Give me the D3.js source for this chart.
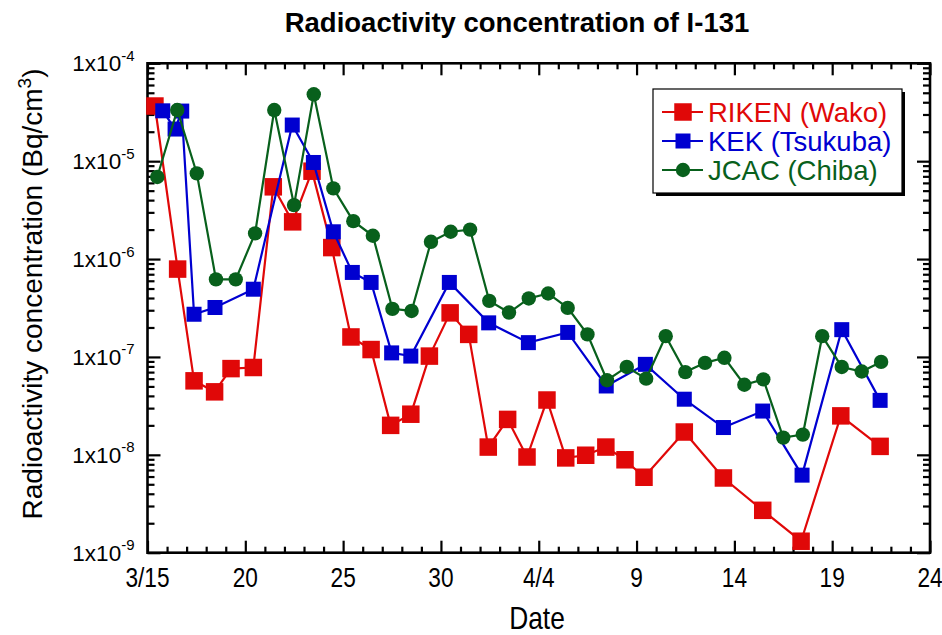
<!DOCTYPE html>
<html>
<head>
<meta charset="utf-8">
<script src="https://cdn.jsdelivr.net/npm/d3@7"></script>
<style>
  body { margin: 0; background: #fff; }
  svg { display: block; font-family: "Liberation Sans", Arial, sans-serif; }
</style>
</head>
<body>
<svg id="chart" width="942" height="635"></svg>
<script>
// Days counted from 3/15, major tick labels along the date axis
const xTickDays = [0, 5, 10, 15, 20, 25, 30, 35, 40];
const xTickLabels = ["3/15", "20", "25", "30", "4/4", "9", "14", "19", "24"];
// Decade exponents on the concentration axis
const yTickExps = [-4, -5, -6, -7, -8, -9];

// RIKEN (Wako)
const rikenDays = [0.38, 1.54, 2.38, 3.43, 4.27, 5.41, 6.43, 7.42, 8.41, 9.42, 10.40, 11.43,
  12.43, 13.46, 14.41, 15.47, 16.42, 17.42, 18.41, 19.40, 20.42, 21.38, 22.40, 23.43,
  24.41, 25.38, 27.44, 29.44, 31.45, 33.41, 35.44, 37.45];
const rikenValues = [3.66e-5, 7.9e-7, 5.7e-8, 4.4e-8, 7.6e-8, 7.8e-8, 5.47e-6, 2.4e-6, 7.9e-6,
  1.31e-6, 1.6e-7, 1.19e-7, 2.0e-8, 2.6e-8, 1.02e-7, 2.82e-7, 1.7e-7, 1.2e-8, 2.3e-8,
  9.5e-9, 3.63e-8, 9.3e-9, 9.9e-9, 1.2e-8, 8.9e-9, 5.9e-9, 1.71e-8, 5.8e-9, 2.71e-9,
  1.31e-9, 2.5e-8, 1.22e-8];

// KEK (Tsukuba)
const kekDays = [0.78, 1.41, 1.75, 2.38, 3.45, 5.41, 7.40, 8.48, 9.50, 10.47, 11.43, 12.48,
  13.46, 15.43, 17.44, 19.47, 21.48, 23.45, 25.45, 27.44, 29.44, 31.45, 33.46, 35.49, 37.45];
const kekValues = [3.27e-5, 2.13e-5, 3.25e-5, 2.73e-7, 3.2e-7, 4.92e-7, 2.34e-5, 9.7e-6, 1.9e-6,
  7.3e-7, 5.77e-7, 1.1e-7, 1.02e-7, 5.77e-7, 2.23e-7, 1.4e-7, 1.78e-7, 5.05e-8, 8.4e-8,
  3.7e-8, 1.9e-8, 2.8e-8, 6.2e-9, 1.9e-7, 3.6e-8];

// JCAC (Chiba)
const jcacDays = [0.50, 1.52, 2.52, 3.50, 4.51, 5.50, 6.48, 7.49, 8.50, 9.50, 10.52, 11.52,
  12.52, 13.50, 14.49, 15.50, 16.49, 17.47, 18.48, 19.49, 20.48, 21.48, 22.49, 23.49,
  24.50, 25.49, 26.49, 27.49, 28.50, 29.49, 30.51, 31.48, 32.50, 33.50, 34.49, 35.49,
  36.51, 37.50];
const jcacValues = [6.9e-6, 3.33e-5, 7.5e-6, 6.2e-7, 6.2e-7, 1.83e-6, 3.33e-5, 3.56e-6, 4.82e-5,
  5.27e-6, 2.44e-6, 1.73e-6, 3.1e-7, 2.95e-7, 1.5e-6, 1.9e-6, 2.0e-6, 3.74e-7, 2.84e-7,
  3.96e-7, 4.45e-7, 3.17e-7, 1.7e-7, 5.78e-8, 7.9e-8, 6.0e-8, 1.63e-7, 7.0e-8, 8.7e-8,
  9.8e-8, 5.2e-8, 5.9e-8, 1.5e-8, 1.61e-8, 1.63e-7, 7.9e-8, 7.1e-8, 8.9e-8];

const seriesNames = ["RIKEN (Wako)", "KEK (Tsukuba)", "JCAC (Chiba)"];
const seriesColors = ["#e00808", "#0000d0", "#08601c"];
const seriesShapes = ["bigSquare", "square", "circle"];

const series = [
  { name: seriesNames[0], color: seriesColors[0], shape: seriesShapes[0],
    points: rikenDays.map((d, i) => ({ day: d, value: rikenValues[i] })) },
  { name: seriesNames[1], color: seriesColors[1], shape: seriesShapes[1],
    points: kekDays.map((d, i) => ({ day: d, value: kekValues[i] })) },
  { name: seriesNames[2], color: seriesColors[2], shape: seriesShapes[2],
    points: jcacDays.map((d, i) => ({ day: d, value: jcacValues[i] })) }
];

const svg = d3.select("#chart");
const plotLeft = 147.5, plotRight = 930, plotTop = 63.3, plotBottom = 552.7;

const x = d3.scaleLinear().domain([0, 40]).range([plotLeft, plotRight]);
const y = d3.scaleLog().domain([1e-9, 1e-4]).range([plotBottom, plotTop]);

const majorY = yTickExps.map(e => Math.pow(10, e));
const minorY = [];
for (let e = -9; e < -4; e++) for (let k = 2; k <= 9; k++) minorY.push(k * Math.pow(10, e));
const minorX = d3.range(0, 41).filter(d => d % 5 !== 0);

// ---- Ticks (inward on all four sides) ----
function tickAxis(axisFn, scale, values, size, transform) {
  const g = svg.append("g").attr("transform", transform)
    .call(axisFn(scale).tickValues(values).tickSize(-size).tickFormat(() => ""));
  g.select(".domain").remove();
  g.selectAll(".tick line").attr("stroke", "#000").attr("stroke-width", 2.2);
  return g;
}
tickAxis(d3.axisBottom, x, xTickDays, 12, `translate(0,${plotBottom})`);
tickAxis(d3.axisBottom, x, minorX, 6, `translate(0,${plotBottom})`);
tickAxis(d3.axisTop, x, xTickDays, 12, `translate(0,${plotTop})`);
tickAxis(d3.axisTop, x, minorX, 6, `translate(0,${plotTop})`);
tickAxis(d3.axisLeft, y, majorY, 13, `translate(${plotLeft},0)`);
tickAxis(d3.axisLeft, y, minorY, 7, `translate(${plotLeft},0)`);
tickAxis(d3.axisRight, y, majorY, 13, `translate(${plotRight},0)`);
tickAxis(d3.axisRight, y, minorY, 7, `translate(${plotRight},0)`);

// Frame
svg.append("rect")
  .attr("x", plotLeft).attr("y", plotTop)
  .attr("width", plotRight - plotLeft).attr("height", plotBottom - plotTop)
  .attr("fill", "none").attr("stroke", "#000").attr("stroke-width", 2.6);

// ---- Date tick labels ----
const xLab = svg.append("g");
xTickDays.forEach((d, i) => {
  xLab.append("text")
    .attr("transform", `translate(${x(d)},${plotBottom + 34}) scale(0.84,1)`)
    .attr("text-anchor", "middle")
    .attr("font-size", 27)
    .attr("fill", "#000")
    .text(xTickLabels[i]);
});

// ---- Concentration tick labels: 1x10^n ----
const yLab = svg.append("g");
yTickExps.forEach(e => {
  const t = yLab.append("text")
    .attr("x", plotLeft - 13).attr("y", y(Math.pow(10, e)) + 8)
    .attr("text-anchor", "end")
    .attr("font-size", 22.5)
    .attr("fill", "#000");
  t.append("tspan").text("1x10");
  t.append("tspan").attr("font-size", 15).attr("dy", -10.5).text(String(e));
});

// ---- Series ----
const line = d3.line().x(p => x(p.day)).y(p => y(p.value));

function drawMarker(g, shape, color, cx, cy) {
  if (shape === "circle") {
    g.append("circle").attr("cx", cx).attr("cy", cy).attr("r", 7.2).attr("fill", color);
  } else {
    const s = shape === "bigSquare" ? 17.5 : 15;
    g.append("rect").attr("x", cx - s / 2).attr("y", cy - s / 2)
      .attr("width", s).attr("height", s).attr("fill", color);
  }
}

series.forEach(s => {
  const g = svg.append("g");
  g.append("path").datum(s.points)
    .attr("d", line).attr("fill", "none")
    .attr("stroke", s.color).attr("stroke-width", 2.2);
  s.points.forEach(p => drawMarker(g, s.shape, s.color, x(p.day), y(p.value)));
});

// ---- Legend ----
const lg = svg.append("g");
const lx = 653, ly = 89, lw = 249, lh = 104;
lg.append("rect").attr("x", lx + 3).attr("y", ly + 3).attr("width", lw).attr("height", lh).attr("fill", "#000");
lg.append("rect").attr("x", lx).attr("y", ly).attr("width", lw).attr("height", lh)
  .attr("fill", "#fff").attr("stroke", "#000").attr("stroke-width", 1.2);
series.forEach((s, i) => {
  const cy = ly + 23 + i * 29;
  lg.append("line").attr("x1", lx + 9).attr("x2", lx + 50).attr("y1", cy).attr("y2", cy)
    .attr("stroke", s.color).attr("stroke-width", 2.2);
  drawMarker(lg, s.shape, s.color, lx + 30, cy);
  lg.append("text").attr("x", lx + 55).attr("y", cy + 9.5)
    .attr("font-size", 27.5).attr("fill", s.color).text(s.name);
});

// ---- Titles ----
svg.append("text").attr("x", 517).attr("y", 32)
  .attr("text-anchor", "middle").attr("font-size", 27.5).attr("font-weight", "bold")
  .text("Radioactivity concentration of I-131");

const yt = svg.append("text")
  .attr("transform", "translate(42,294) rotate(-90)")
  .attr("text-anchor", "middle").attr("font-size", 28);
yt.append("tspan").text("Radioactivity concentration (Bq/cm");
yt.append("tspan").attr("font-size", 19).attr("dy", -11).text("3");
yt.append("tspan").attr("dy", 11).text(")");

svg.append("text")
  .attr("transform", "translate(537,629) scale(0.85,1)")
  .attr("text-anchor", "middle").attr("font-size", 31)
  .text("Date");
</script>
</body>
</html>
